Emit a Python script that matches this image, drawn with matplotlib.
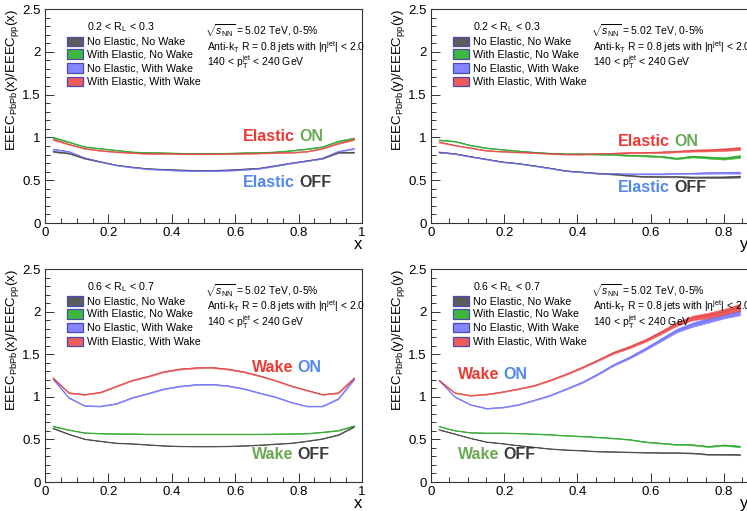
import matplotlib
matplotlib.use("Agg")
import matplotlib.pyplot as plt
from matplotlib.patches import Rectangle
from matplotlib.ticker import MultipleLocator, FuncFormatter
import numpy as np

plt.rcParams["font.family"] = ["Liberation Sans", "DejaVu Sans"]
plt.rcParams["mathtext.fontset"] = "custom"
plt.rcParams["mathtext.rm"] = "Liberation Sans"
plt.rcParams["mathtext.it"] = "Liberation Sans:italic"
plt.rcParams["mathtext.bf"] = "Liberation Sans:bold"

# ===== DATA ==========================================
x_centers = [0.025, 0.075, 0.125, 0.175, 0.225, 0.275, 0.325, 0.375, 0.425, 0.475,
             0.525, 0.575, 0.625, 0.675, 0.725, 0.775, 0.825, 0.875, 0.925, 0.975]
y_centers = [0.0217, 0.0650, 0.1083, 0.1516, 0.1949, 0.2382, 0.2815, 0.3248, 0.3681, 0.4114,
             0.4547, 0.4980, 0.5413, 0.5846, 0.6279, 0.6712, 0.7145, 0.7578, 0.8011, 0.8444]

series_labels = ["No Elastic, No Wake", "With Elastic, No Wake",
                 "No Elastic, With Wake", "With Elastic, With Wake"]

# 0.2 < R_L < 0.3, vs x
noel_nowake_x1 = [0.835, 0.815, 0.754, 0.715, 0.677, 0.654, 0.635, 0.627, 0.620, 0.615,
                  0.615, 0.620, 0.630, 0.640, 0.670, 0.700, 0.727, 0.754, 0.823, 0.827]
el_nowake_x1 = [1.000, 0.946, 0.890, 0.870, 0.850, 0.830, 0.823, 0.820, 0.815, 0.813,
                0.813, 0.815, 0.820, 0.823, 0.830, 0.845, 0.865, 0.890, 0.955, 0.990]
noel_wake_x1 = [0.862, 0.835, 0.762, 0.718, 0.675, 0.650, 0.630, 0.620, 0.612, 0.608,
                0.608, 0.612, 0.622, 0.635, 0.665, 0.697, 0.725, 0.758, 0.835, 0.870]
el_wake_x1 = [0.977, 0.920, 0.870, 0.846, 0.830, 0.820, 0.810, 0.810, 0.808, 0.806,
              0.806, 0.808, 0.810, 0.815, 0.820, 0.823, 0.835, 0.870, 0.930, 0.977]

# 0.2 < R_L < 0.3, vs y
noel_nowake_y1 = [0.827, 0.810, 0.777, 0.746, 0.715, 0.696, 0.670, 0.642, 0.610, 0.596,
                  0.580, 0.570, 0.554, 0.542, 0.540, 0.540, 0.535, 0.535, 0.535, 0.542]
el_nowake_y1 = [0.970, 0.954, 0.908, 0.877, 0.858, 0.842, 0.827, 0.815, 0.808, 0.808,
                0.804, 0.800, 0.790, 0.785, 0.777, 0.754, 0.777, 0.765, 0.754, 0.777]
noel_wake_y1 = [0.830, 0.810, 0.775, 0.745, 0.713, 0.695, 0.668, 0.640, 0.610, 0.596,
                0.582, 0.577, 0.573, 0.573, 0.573, 0.577, 0.580, 0.585, 0.588, 0.588]
el_wake_y1 = [0.946, 0.908, 0.877, 0.846, 0.835, 0.827, 0.820, 0.810, 0.804, 0.804,
              0.810, 0.815, 0.820, 0.823, 0.827, 0.835, 0.846, 0.850, 0.858, 0.870]

# 0.6 < R_L < 0.7, vs x
noel_nowake_x2 = [0.632, 0.562, 0.504, 0.480, 0.457, 0.450, 0.438, 0.426, 0.420, 0.418,
                  0.418, 0.420, 0.426, 0.434, 0.446, 0.457, 0.480, 0.508, 0.554, 0.650]
el_nowake_x2 = [0.655, 0.612, 0.578, 0.570, 0.566, 0.566, 0.562, 0.562, 0.562, 0.562,
                0.562, 0.562, 0.562, 0.562, 0.564, 0.566, 0.570, 0.585, 0.605, 0.660]
noel_wake_x2 = [1.210, 0.990, 0.895, 0.890, 0.920, 0.990, 1.040, 1.093, 1.124, 1.143,
                1.147, 1.130, 1.097, 1.047, 1.000, 0.938, 0.890, 0.890, 0.977, 1.210]
el_wake_x2 = [1.220, 1.047, 1.027, 1.054, 1.124, 1.194, 1.240, 1.295, 1.326, 1.340,
              1.345, 1.326, 1.295, 1.248, 1.194, 1.130, 1.078, 1.027, 1.047, 1.220]

# 0.6 < R_L < 0.7, vs y
noel_nowake_y2 = [0.615, 0.565, 0.514, 0.471, 0.452, 0.429, 0.410, 0.390, 0.378, 0.370,
                  0.359, 0.355, 0.351, 0.347, 0.343, 0.343, 0.339, 0.324, 0.324, 0.320]
el_nowake_y2 = [0.654, 0.604, 0.580, 0.576, 0.576, 0.572, 0.565, 0.557, 0.545, 0.537,
                0.526, 0.514, 0.499, 0.471, 0.456, 0.440, 0.436, 0.417, 0.433, 0.417]
noel_wake_y2 = [1.194, 1.000, 0.907, 0.864, 0.876, 0.907, 0.960, 1.016, 1.090, 1.167,
                1.264, 1.373, 1.459, 1.560, 1.668, 1.777, 1.847, 1.900, 1.956, 2.000]
el_wake_y2 = [1.194, 1.047, 1.016, 1.030, 1.058, 1.093, 1.132, 1.194, 1.264, 1.342,
              1.428, 1.517, 1.583, 1.660, 1.754, 1.855, 1.925, 1.956, 1.995, 2.050]

# relative uncertainty (band half width)
rel_err_x = [0.008, 0.006, 0.005, 0.005, 0.005, 0.005, 0.005, 0.005, 0.005, 0.005,
             0.005, 0.005, 0.005, 0.005, 0.005, 0.005, 0.005, 0.005, 0.006, 0.008]
rel_err_y = [0.006, 0.005, 0.005, 0.005, 0.005, 0.005, 0.005, 0.006, 0.006, 0.007,
             0.007, 0.008, 0.009, 0.010, 0.011, 0.012, 0.014, 0.016, 0.018, 0.021]

fill_colors = ["#5c5c5c", "#3db83d", "#8585ff", "#ee5c5c"]
line_colors = ["#3c3c3c", "#2a9a2a", "#6a6ae8", "#dd4040"]

c_red = "#ec3a32"
c_green = "#6aaa55"
c_blue = "#5288ee"
c_dark = "#3a3a3a"


# ===== FUNCTIONS =====================================
def fmt(v, pos):
    return "%g" % round(v, 3)


def draw_band(ax, xs, ys, rel, fc, lc):
    xs = np.array(xs)
    ys = np.array(ys)
    rel = np.array(rel)
    ax.fill_between(xs, ys * (1 - rel), ys * (1 + rel), facecolor=fc,
                    edgecolor=fc, lw=0.4, zorder=2)
    ax.plot(xs, ys, color=lc, lw=0.45, zorder=3)


def two_color(ax, x, y, w1, c1, w2, c2):
    t = ax.text(x, y, w1, transform=ax.transAxes, color=c1, fontsize=11.5,
                fontweight="bold", va="center", ha="left")
    ax.annotate(w2, xy=(1, 0), xycoords=t, xytext=(3.2, 0),
                textcoords="offset points", color=c2, fontsize=11.5,
                fontweight="bold", va="bottom", ha="left")


def draw_legend(ax, header):
    ax.text(0.1325, 0.916, header, transform=ax.transAxes, fontsize=7.7, va="center")
    ys_leg = [0.849, 0.789, 0.724, 0.661]
    for yy, lab, fc in zip(ys_leg, series_labels, fill_colors):
        ax.add_patch(Rectangle((0.069, yy - 0.022), 0.05, 0.044, transform=ax.transAxes,
                               facecolor=fc, edgecolor="#4a4ab4", lw=0.9, zorder=5))
        ax.text(0.1325, yy, lab, transform=ax.transAxes, fontsize=7.7, va="center")
    ax.text(0.505, 0.897, r"$\sqrt{s_{\mathrm{NN}}}$ = 5.02 TeV, 0-5%",
            transform=ax.transAxes, fontsize=7.5, va="center")
    ax.text(0.512, 0.824, r"Anti-k$_{\mathrm{T}}$ R = 0.8 jets with |$\mathrm{\eta}^{\mathrm{jet}}$| < 2.0",
            transform=ax.transAxes, fontsize=7.5, va="center")
    ax.text(0.512, 0.752, r"140 < p$_{\mathrm{T}}^{\mathrm{jet}}$ < 240 GeV",
            transform=ax.transAxes, fontsize=7.5, va="center")


def style_axes(ax, xmax, var):
    ax.set_xlim(0, xmax)
    ax.set_ylim(0, 2.5)
    ax.xaxis.set_major_locator(MultipleLocator(0.2))
    ax.xaxis.set_minor_locator(MultipleLocator(0.05))
    ax.yaxis.set_major_locator(MultipleLocator(0.5))
    ax.yaxis.set_minor_locator(MultipleLocator(0.1))
    ax.xaxis.set_major_formatter(FuncFormatter(fmt))
    ax.yaxis.set_major_formatter(FuncFormatter(fmt))
    ax.tick_params(which="both", direction="in", top=False, right=False,
                   labelsize=9.5, pad=3, width=0.7, color="#333333")
    ax.tick_params(which="major", length=6.5)
    ax.tick_params(which="minor", length=3.5)
    for sp in ax.spines.values():
        sp.set_linewidth(0.8)
        sp.set_color("#333333")
    ax.set_ylabel(r"EEEC$_{\mathrm{PbPb}}$(%s)/EEEC$_{\mathrm{pp}}$(%s)" % (var, var),
                  loc="top", fontsize=9.5)
    ax.yaxis.set_label_coords(-0.075, 1.0)
    ax.set_xlabel(var, loc="right", fontsize=12, labelpad=-1.5)


# ===== MAIN ==========================================
fig = plt.figure(figsize=(7.47, 5.11), dpi=100)

W, H = 747.0, 511.0
ax_tl = fig.add_axes([45 / W, (H - 223) / H, 317 / W, 214 / H])
ax_tr = fig.add_axes([431 / W, (H - 223) / H, 317 / W, 214 / H])
ax_bl = fig.add_axes([45 / W, (H - 482) / H, 317 / W, 213 / H])
ax_br = fig.add_axes([431 / W, (H - 482) / H, 317 / W, 213 / H])

panels = [
    (ax_tl, x_centers, rel_err_x, [noel_nowake_x1, el_nowake_x1, noel_wake_x1, el_wake_x1], 1.0, "x",
     r"0.2 < R$_{\mathrm{L}}$ < 0.3"),
    (ax_tr, y_centers, rel_err_y, [noel_nowake_y1, el_nowake_y1, noel_wake_y1, el_wake_y1], 0.866, "y",
     r"0.2 < R$_{\mathrm{L}}$ < 0.3"),
    (ax_bl, x_centers, rel_err_x, [noel_nowake_x2, el_nowake_x2, noel_wake_x2, el_wake_x2], 1.0, "x",
     r"0.6 < R$_{\mathrm{L}}$ < 0.7"),
    (ax_br, y_centers, rel_err_y, [noel_nowake_y2, el_nowake_y2, noel_wake_y2, el_wake_y2], 0.866, "y",
     r"0.6 < R$_{\mathrm{L}}$ < 0.7"),
]

for ax, xs, rel, curves, xmax, var, header in panels:
    style_axes(ax, xmax, var)
    for ys, fc, lc in zip(curves, fill_colors, line_colors):
        draw_band(ax, xs, ys, rel, fc, lc)
    draw_legend(ax, header)

two_color(ax_tl, 0.625, 0.402, "Elastic", c_red, "ON", c_green)
two_color(ax_tl, 0.625, 0.187, "Elastic", c_blue, "OFF", c_dark)
two_color(ax_tr, 0.590, 0.380, "Elastic", c_red, "ON", c_green)
two_color(ax_tr, 0.590, 0.165, "Elastic", c_blue, "OFF", c_dark)
two_color(ax_bl, 0.652, 0.539, "Wake", c_red, "ON", c_blue)
two_color(ax_bl, 0.652, 0.127, "Wake", c_green, "OFF", c_dark)
two_color(ax_br, 0.085, 0.507, "Wake", c_red, "ON", c_blue)
two_color(ax_br, 0.085, 0.130, "Wake", c_green, "OFF", c_dark)

fig.savefig("out.png", dpi=100)
